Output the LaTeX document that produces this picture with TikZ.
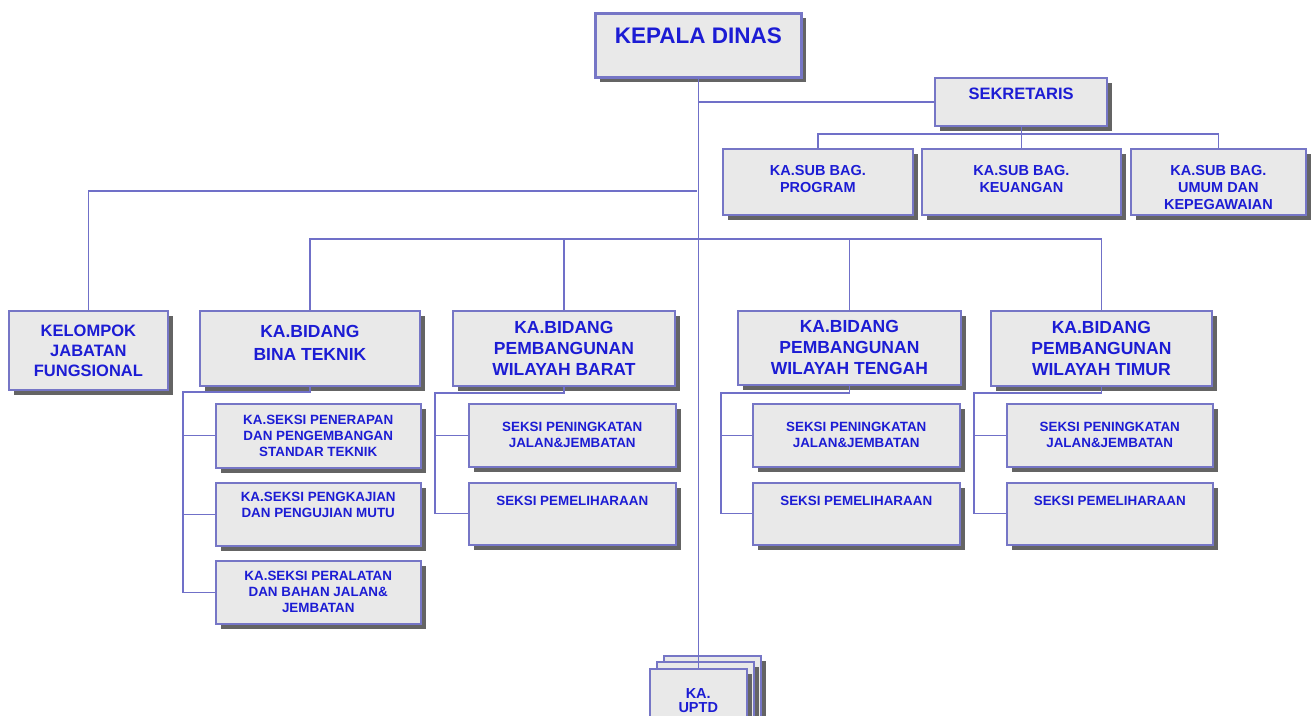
\documentclass[tikz,border=0pt]{standalone}
\usepackage{fontspec}
\setmainfont{Liberation Sans}
\usetikzlibrary{shadows,calc}
\definecolor{bordc}{RGB}{118,118,198}
\definecolor{linec}{RGB}{112,112,200}
\definecolor{shadc}{RGB}{100,100,100}
\definecolor{boxf}{RGB}{233,233,233}
\definecolor{txtc}{RGB}{28,28,212}
\begin{document}
\begin{tikzpicture}[x=1pt,y=-1pt,
  orgbox/.style={draw=bordc, line width=1.8pt, fill=boxf, inner sep=0pt,
    anchor=north west, align=center, text=txtc,
    drop shadow={shadow xshift=5pt, shadow yshift=-5pt, fill=shadc, opacity=1}},
  sz/.style 2 args={minimum width=#1pt, minimum height=#2pt},
  fkd/.style={font=\bfseries\fontsize{22.5}{25}\selectfont},
  fsek/.style={font=\bfseries\fontsize{16.5}{19}\selectfont},
  fsub/.style={font=\bfseries\fontsize{14.5}{17}\selectfont},
  fbid/.style={font=\bfseries\fontsize{17.5}{21}\selectfont},
  fkel/.style={font=\bfseries\fontsize{16.5}{20}\selectfont},
  fsek2/.style={font=\bfseries\fontsize{13.4}{16}\selectfont},
  fupt/.style={font=\bfseries\fontsize{14.5}{14}\selectfont},
  conn/.style={draw=linec, line width=1.2pt},
  connm/.style={draw=linec, line width=1.6pt},
  connt/.style={draw=linec, line width=2.4pt}
]
\useasboundingbox (0,0) rectangle (1311,715);

% top
\node[orgbox, sz={206}{64}, line width=2.6pt, fkd] (kd) at (594,12) {KEPALA DINAS\\[-5pt]\mbox{}};
\node[orgbox, sz={172}{48}, line width=2.2pt, fsek] (sek) at (934,77) {SEKRETARIS\\[-3pt]\mbox{}};

% sub bagian
\node[orgbox, sz={190}{66}, fsub] (prog) at (722,148) {KA.SUB BAG.\\PROGRAM\\[-11pt]\mbox{}};
\node[orgbox, sz={199}{66}, fsub] (keu) at (921,148) {KA.SUB BAG.\\KEUANGAN\\[-11pt]\mbox{}};
\node[orgbox, sz={175}{66}, fsub] (umum) at (1130,148) {KA.SUB BAG.\\UMUM DAN\\KEPEGAWAIAN\\[-28pt]\mbox{}};

% bidang
\node[orgbox, sz={159}{79}, fkel] (kel) at (8,310) {KELOMPOK\\JABATAN\\FUNGSIONAL};
\node[orgbox, sz={220}{75}, fbid] (bina) at (199,310) {KA.BIDANG\\[2pt]BINA TEKNIK\\[-9pt]\mbox{}};
\node[orgbox, sz={222}{75}, fbid] (barat) at (452,310) {KA.BIDANG\\PEMBANGUNAN\\WILAYAH BARAT};
\node[orgbox, sz={223}{74}, fbid] (tengah) at (737,310) {KA.BIDANG\\PEMBANGUNAN\\WILAYAH TENGAH};
\node[orgbox, sz={221}{75}, fbid] (timur) at (990,310) {KA.BIDANG\\PEMBANGUNAN\\WILAYAH TIMUR};

% seksi bina teknik
\node[orgbox, sz={205}{64}, line width=1.5pt, fsek2] (b1) at (215,403) {KA.SEKSI PENERAPAN\\DAN PENGEMBANGAN\\STANDAR TEKNIK};
\node[orgbox, sz={205}{63}, line width=1.5pt, fsek2] (b2) at (215,482) {KA.SEKSI PENGKAJIAN\\DAN PENGUJIAN MUTU\\[3pt]\mbox{}};
\node[orgbox, sz={205}{63}, line width=1.5pt, fsek2] (b3) at (215,560) {KA.SEKSI PERALATAN\\DAN BAHAN JALAN\&\\JEMBATAN};

% seksi barat
\node[orgbox, sz={207}{63}, line width=1.5pt, fsek2] (w1) at (468,403) {SEKSI PENINGKATAN\\JALAN\&JEMBATAN};
\node[orgbox, sz={207}{62}, line width=1.5pt, fsek2] (w2) at (468,482) {SEKSI PEMELIHARAAN\\[10pt]\mbox{}};
% seksi tengah
\node[orgbox, sz={207}{63}, line width=1.5pt, fsek2] (t1) at (752,403) {SEKSI PENINGKATAN\\JALAN\&JEMBATAN};
\node[orgbox, sz={207}{62}, line width=1.5pt, fsek2] (t2) at (752,482) {SEKSI PEMELIHARAAN\\[10pt]\mbox{}};
% seksi timur
\node[orgbox, sz={206}{63}, line width=1.5pt, fsek2] (m1) at (1006,403) {SEKSI PENINGKATAN\\JALAN\&JEMBATAN};
\node[orgbox, sz={206}{62}, line width=1.5pt, fsek2] (m2) at (1006,482) {SEKSI PEMELIHARAAN\\[10pt]\mbox{}};

% UPTD stack
\node[orgbox, sz={97}{64}, line width=1.5pt] (uptdc) at (663,655) {};
\node[orgbox, sz={97}{64}, line width=1.5pt] (uptdb) at (656,661) {};
\node[orgbox, sz={97}{64}, line width=1.5pt, fupt] (uptd) at (649,668) {KA.\\UPTD};

% junction coordinates
\coordinate (jkel) at (697,191);
\coordinate (jbus) at (697,239);
\coordinate (jsb) at (1019,134);
\coordinate (jb) at (183,392);
\coordinate (jw) at (435,393);
\coordinate (jt) at (721,393);
\coordinate (jm) at (974,393);

% trunk and secretary
\draw[connm] (kd.south) -- (kd.south |- uptdc.north);
\draw[conn] (uptdc.north -| kd.south) -- (uptd.north -| kd.south);
\draw[connm] (kd.south |- sek.west) -- (sek.west);
\draw[conn] (sek.south) -- (sek.south |- jsb);
\draw[conn] (prog.north) |- (jsb) -| (umum.north);
\draw[conn] (keu.north) -- (keu.north |- jsb);

% kelompok
\draw[conn] (jkel) -| (kel.north);

% bidang bus
\draw[connt] (jbus) -| (bina.north);
\draw[connm] (jbus) -| (timur.north);
\draw[connt] (barat.north) -- (barat.north |- jbus);
\draw[connm] (tengah.north) -- (tengah.north |- jbus);

% bina teknik seksi
\draw[conn] (bina.south) |- (jb) -- (jb |- b3.west) -- (b3.west);
\draw[conn] (jb |- b1.west) -- (b1.west);
\draw[conn] (jb |- b2.west) -- (b2.west);
% barat
\draw[conn] (barat.south) |- (jw) -- (jw |- w2.west) -- (w2.west);
\draw[conn] (jw |- w1.west) -- (w1.west);
% tengah
\draw[conn] (tengah.south) |- (jt) -- (jt |- t2.west) -- (t2.west);
\draw[conn] (jt |- t1.west) -- (t1.west);
% timur
\draw[conn] (timur.south) |- (jm) -- (jm |- m2.west) -- (m2.west);
\draw[conn] (jm |- m1.west) -- (m1.west);
\end{tikzpicture}
\end{document}
